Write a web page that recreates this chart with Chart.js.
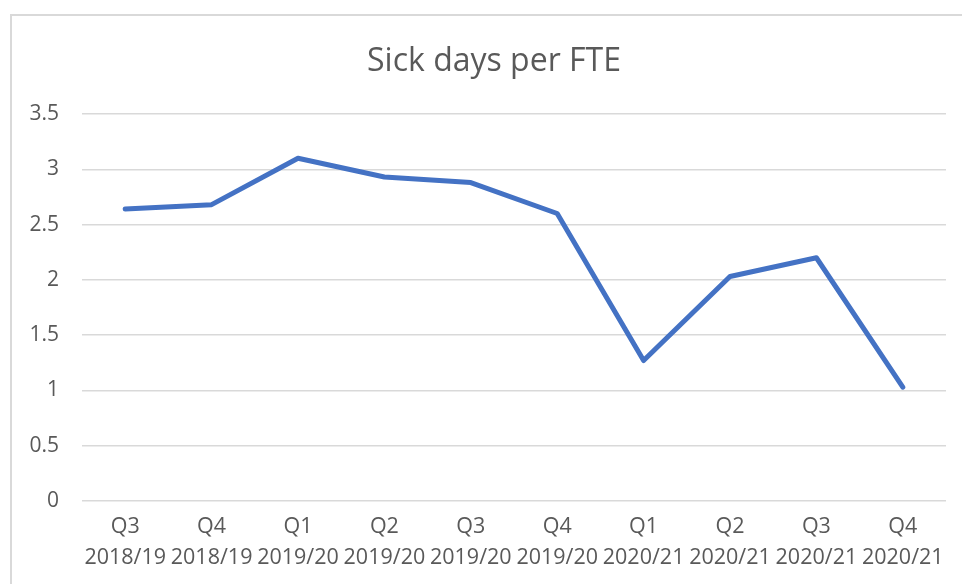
<!DOCTYPE html>
<html>
<head>
<meta charset="utf-8">
<script src="https://cdn.jsdelivr.net/npm/chart.js@4/dist/chart.umd.min.js"></script>
<style>
  html, body { margin: 0; padding: 0; background: #fff; }
  #wrap { position: relative; width: 962px; height: 584px; }
</style>
</head>
<body>
<div id="wrap"><canvas id="sickChart" width="962" height="584"></canvas></div>
<script>
var quarters = ["Q3", "Q4", "Q1", "Q2", "Q3", "Q4", "Q1", "Q2", "Q3", "Q4"];
var years = ["2018/19", "2018/19", "2019/20", "2019/20", "2019/20", "2019/20", "2020/21", "2020/21", "2020/21", "2020/21"];
var sickDays = [2.64, 2.68, 3.10, 2.93, 2.88, 2.60, 1.27, 2.03, 2.20, 1.03];

var labels = quarters.map(function (q, i) { return [q, years[i]]; });
var fontFamily = "'Open Sans', 'Noto Sans', sans-serif";
var textGrey = "#595959";

// excel style frame + title
var framePlugin = {
  id: 'frame',
  beforeDraw: function (chart) {
    var ctx = chart.ctx;
    ctx.save();
    ctx.strokeStyle = '#d9d9d9';
    ctx.lineWidth = 2;
    ctx.beginPath();
    ctx.moveTo(11, 600);
    ctx.lineTo(11, 15);
    ctx.lineTo(980, 15);
    ctx.stroke();
    ctx.fillStyle = textGrey;
    ctx.font = "32px " + fontFamily;
    ctx.textAlign = 'center';
    ctx.textBaseline = 'middle';
    ctx.fillText("Sick days per FTE", 494, 62);
    ctx.restore();
  }
};

new Chart(document.getElementById("sickChart"), {
  type: 'line',
  data: {
    labels: labels,
    datasets: [{
      data: sickDays,
      borderColor: '#4472c4',
      borderWidth: 5,
      borderJoinStyle: 'round',
      borderCapStyle: 'round',
      pointRadius: 0,
      tension: 0,
      fill: false
    }]
  },
  options: {
    responsive: false,
    animation: false,
    layout: { padding: { top: 114, right: 16, bottom: 0, left: 0 } },
    plugins: {
      legend: { display: false },
      title: { display: false },
      tooltip: { enabled: false }
    },
    scales: {
      x: {
        offset: true,
        grid: { display: false },
        border: { display: false },
        ticks: {
          color: textGrey,
          font: { family: fontFamily, size: 21.5, lineHeight: 1.45 },
          padding: 2,
          maxRotation: 0,
          autoSkip: false
        },
        afterFit: function (scale) { scale.height = 83; }
      },
      y: {
        min: 0,
        max: 3.5,
        grid: { color: '#d9d9d9', lineWidth: 1.5, drawTicks: false },
        border: { display: false },
        ticks: {
          stepSize: 0.5,
          color: textGrey,
          font: { family: fontFamily, size: 21 },
          padding: 23,
          callback: function (v) { return String(v); }
        },
        afterFit: function (scale) { scale.width = 82; }
      }
    }
  },
  plugins: [framePlugin]
});
</script>
</body>
</html>
